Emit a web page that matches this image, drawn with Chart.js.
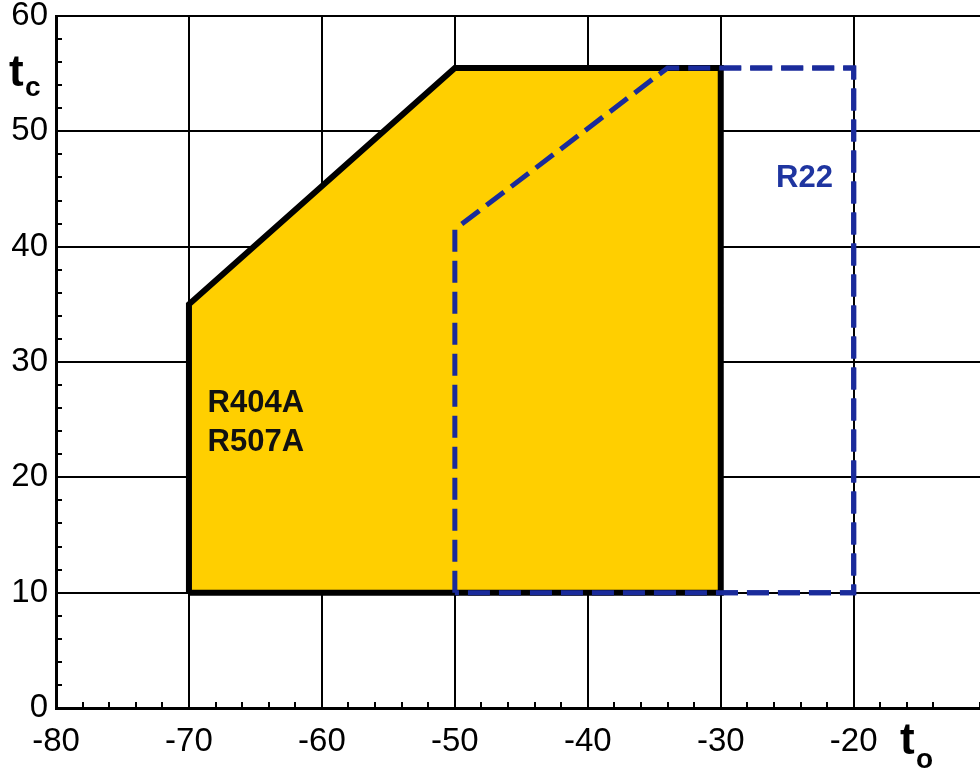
<!DOCTYPE html>
<html>
<head>
<meta charset="utf-8">
<script src="https://cdn.jsdelivr.net/npm/chart.js@4/dist/chart.umd.min.js"></script>
<style>
  body { margin: 0; background: #fff; }
  #wrap { width: 980px; height: 770px; }
</style>
</head>
<body>
<div id="wrap"><canvas id="envelope"></canvas></div>
<script>
// operating envelope, evaporating temp (to) vs condensing temp (tc)
const r404aTo = [-70, -70, -50, -30, -30, -70];
const r404aTc = [10, 35, 55.5, 55.5, 10, 10];
const r22To = [-50, -50, -34, -20, -20, -50];
const r22Tc = [10, 41.5, 55.5, 55.5, 10, 10];

const xTickLabels = [-80, -70, -60, -50, -40, -30, -20];
const yTickLabels = [0, 10, 20, 30, 40, 50, 60];

const toPoints = (xs, ys) => xs.map((x, i) => ({ x: x, y: ys[i] }));
const isMajor = (list, v) => list.includes(Math.round(v * 100) / 100);

// region labels, in data coordinates
const areaLabels = [
  { text: 'R404A', x: -68.6, y: 26.4, color: '#111', align: 'left' },
  { text: 'R507A', x: -68.6, y: 23.0, color: '#111', align: 'left' },
  { text: 'R22', x: -23.7, y: 45.9, color: '#1f35a0', align: 'center' }
];

const overlay = {
  id: 'overlay',
  afterDraw(chart) {
    const ctx = chart.ctx;
    const a = chart.chartArea;
    const xs = chart.scales.x, ys = chart.scales.y;

    // dashed R22 outline goes above the grid
    ctx.save();
    ctx.beginPath();
    ctx.rect(a.left, a.top, a.right - a.left, a.bottom - a.top);
    ctx.clip();
    chart.getDatasetMeta(1).controller.draw();
    ctx.restore();

    ctx.save();
    ctx.textBaseline = 'middle';
    ctx.font = 'bold 31px Arial, "Liberation Sans", sans-serif';
    areaLabels.forEach(l => {
      ctx.fillStyle = l.color;
      ctx.textAlign = l.align;
      ctx.fillText(l.text, xs.getPixelForValue(l.x), ys.getPixelForValue(l.y));
    });

    // axis titles
    ctx.fillStyle = '#000';
    ctx.textAlign = 'left';
    ctx.textBaseline = 'alphabetic';
    ctx.font = 'bold 44px Arial, "Liberation Sans", sans-serif';
    ctx.fillText('t', 9, 86);
    ctx.font = 'bold 28px Arial, "Liberation Sans", sans-serif';
    ctx.fillText('c', 25, 96);
    ctx.font = 'bold 44px Arial, "Liberation Sans", sans-serif';
    ctx.fillText('t', 900, 754);
    ctx.font = 'bold 28px Arial, "Liberation Sans", sans-serif';
    ctx.fillText('o', 916, 768);
    ctx.restore();
  }
};

const tickFont = { family: 'Arial, "Liberation Sans", sans-serif', size: 33 };

new Chart(document.getElementById('envelope'), {
  type: 'line',
  data: {
    datasets: [{
      label: 'R404A / R507A',
      data: toPoints(r404aTo, r404aTc),
      borderColor: '#000',
      backgroundColor: '#FFCF00',
      borderWidth: 6,
      borderJoinStyle: 'miter',
      fill: 'shape',
      pointRadius: 0,
      tension: 0
    }, {
      label: 'R22',
      data: toPoints(r22To, r22Tc),
      borderColor: '#1a2b9b',
      borderWidth: 5,
      borderDash: [22, 9],
      fill: false,
      pointRadius: 0,
      tension: 0
    }]
  },
  options: {
    responsive: true,
    maintainAspectRatio: false,
    animation: false,
    layout: { padding: { top: 16, left: 0, right: 0, bottom: 0 } },
    plugins: {
      legend: { display: false },
      tooltip: { enabled: false }
    },
    scales: {
      x: {
        type: 'linear',
        min: -80,
        max: -10.5,
        z: 1,
        afterFit: s => {
          s.height = 62;
          s.paddingLeft = 0; s.paddingRight = 0;
        },
        border: { color: '#000', width: 3 },
        grid: {
          color: c => isMajor(xTickLabels, c.tick.value) ? '#000' : 'rgba(0,0,0,0)',
          lineWidth: 2,
          tickColor: '#000',
          tickWidth: 2,
          tickLength: -6
        },
        ticks: {
          stepSize: 2,
          maxTicksLimit: 100,
          autoSkip: false,
          maxRotation: 0,
          padding: 20,
          color: '#000',
          font: tickFont,
          callback: v => isMajor(xTickLabels, v) ? String(v) : ''
        }
      },
      y: {
        min: 0,
        max: 60,
        z: 1,
        afterFit: s => {
          s.width = 56;
          s.paddingTop = 0; s.paddingBottom = 0;
        },
        border: { color: '#000', width: 3 },
        grid: {
          color: c => isMajor(yTickLabels, c.tick.value) ? '#000' : 'rgba(0,0,0,0)',
          lineWidth: 2,
          tickColor: '#000',
          tickWidth: 2,
          tickLength: -6
        },
        ticks: {
          stepSize: 2,
          maxTicksLimit: 100,
          autoSkip: false,
          padding: 14,
          color: '#000',
          font: tickFont,
          callback: v => isMajor(yTickLabels, v) ? String(v) : ''
        }
      }
    }
  },
  plugins: [overlay]
});
</script>
</body>
</html>
